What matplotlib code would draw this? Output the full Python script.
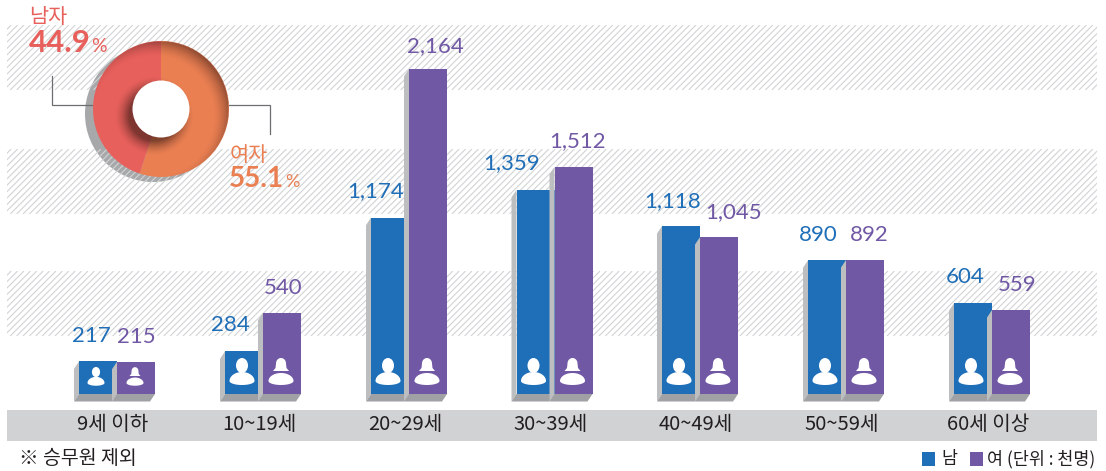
import numpy as np
import matplotlib
matplotlib.use("Agg")
import matplotlib.pyplot as plt
from matplotlib.patches import Rectangle, Polygon, Circle, Ellipse
from matplotlib.collections import LineCollection

categories = ["9세 이하", "10~19세", "20~29세", "30~39세", "40~49세", "50~59세", "60세 이상"]
male = [217, 284, 1174, 1359, 1118, 890, 604]
female = [215, 540, 2164, 1512, 1045, 892, 559]
male_labels = ["217", "284", "1,174", "1,359", "1,118", "890", "604"]
female_labels = ["215", "540", "2,164", "1,512", "1,045", "892", "559"]
share_values = [55.1, 44.9]

W, H = 1106, 471
BLUE, PURPLE = "#1e6eb8", "#7058a5"
ORANGE, RED = "#ea7f52", "#e8605c"
SIDE, FLOOR = "#bcbec0", "#a0a1a4"
KR = ["Noto Sans CJK KR", "DejaVu Sans"]
NUM = ["Lato", "Noto Sans", "DejaVu Sans"]
plt.rcParams["font.family"] = KR

fig = plt.figure(figsize=(W / 100, H / 100), dpi=100, facecolor="white")


def full_axes(z):
    a = fig.add_axes([0, 0, 1, 1], zorder=z)
    a.patch.set_alpha(0)
    a.set_axis_off()
    return a


# background (pixel coordinates)
bg = full_axes(0)
bg.set_xlim(0, W)
bg.set_ylim(H, 0)
for y0, y1 in [(25, 90), (149, 214), (271, 336)]:
    clip = Rectangle((7, y0), 1090, y1 - y0, transform=bg.transData, fc="none", ec="none")
    bg.add_patch(clip)
    xs = np.arange(7 - 80, 1097 + 80, 6.4)
    segs = [[(x, y1), (x + (y1 - y0), y0)] for x in xs]
    lc = LineCollection(segs, colors="#d2d3d4", linewidths=0.8)
    bg.add_collection(lc)
    lc.set_clip_path(clip)
bg.add_patch(Rectangle((7, 410), 1090, 31, fc="#d1d2d4", ec="none"))

# bars on a value scale: zero at y=394px, 0.1502 px per unit
SCALE = 0.1502
BASE = 394
val = full_axes(1)
val.set_xlim(0, W)
val.set_ylim(-(H - BASE) / SCALE, BASE / SCALE)
centers = np.array([117, 263, 409, 554.5, 700, 846, 992])
BW = 38
DX, DY = -5, 7.5 / SCALE


def bar3d(a, left, v, color, z):
    right = left + BW
    a.add_patch(Polygon([(left, v), (left + DX, v - DY), (left + DX, -DY), (left, 0)],
                        fc=SIDE, ec="none", zorder=z))
    a.add_patch(Polygon([(left, 0), (right, 0), (right + DX, -DY), (left + DX, -DY)],
                        fc=FLOOR, ec="none", zorder=z))
    a.bar(left, v, width=BW, align="edge", color=color, zorder=z + 0.1)


for c, m, f in zip(centers, male, female):
    bar3d(val, c - BW, m, BLUE, 2)
    bar3d(val, c, f, PURPLE, 3)

m_off = [(-7, 25), (-14, 26), (-14, 27), (-24, 27), (-8, 25), (-9, 25), (-8, 26)]
f_off = [(0, 25), (1, 25), (7, 23), (4, 26), (15, 25), (4, 25), (6, 25)]
for c, m, f, ml, fl, mo, fo in zip(centers, male, female, male_labels, female_labels, m_off, f_off):
    val.annotate(ml, (c - BW / 2, m), xytext=mo, textcoords="offset pixels", ha="center", va="center",
                 color=BLUE, fontsize=16, family=NUM, fontweight="normal")
    val.annotate(fl, (c + BW / 2, f), xytext=fo, textcoords="offset pixels", ha="center", va="center",
                 color=PURPLE, fontsize=16, family=NUM, fontweight="normal")

# overlay in pixel coordinates: icons, texts, leader lines
top = full_axes(2)
top.set_xlim(0, W)
top.set_ylim(H, 0)


def shoulders(cx, cy, rx, up, down):
    t = np.linspace(0, np.pi, 40)
    upper = np.c_[cx + rx * np.cos(t), cy - up * np.sin(t)]
    t2 = np.linspace(np.pi, 2 * np.pi, 40)
    lower = np.c_[cx + rx * np.cos(t2), cy - down * np.sin(t2)]
    return Polygon(np.r_[upper, lower], fc="white", ec="none")


def man(cx, s):
    top.add_patch(Ellipse((cx, 386 - 20.5 * s), 12 * s, 15 * s, fc="white", ec="none"))
    top.add_patch(shoulders(cx, 381 if s == 1 else 383, 12.5 * s, 9 * s, 4 * s))


def woman(cx, s):
    yb = 371 if s == 1 else 376
    t = np.linspace(0, np.pi, 30)
    dome = np.c_[cx + 5 * s * np.cos(t), yb - 7.5 * s - 5.5 * s * np.sin(t)]
    pts = np.r_[[(cx + 8 * s, yb), (cx + 5.5 * s, yb - 3 * s)], dome,
                [(cx - 5.5 * s, yb - 3 * s), (cx - 8 * s, yb)]]
    top.add_patch(Polygon(pts, fc="white", ec="none"))
    top.add_patch(shoulders(cx, 381 if s == 1 else 383, 12.5 * s, 8 * s, 4 * s))


for i, c in enumerate(centers):
    s = 0.68 if i == 0 else 1
    man(c - BW / 2 - 2, s)
    woman(c + BW / 2 - 1, s)

for c, lab in zip(centers, categories):
    top.text(c - 4, 425, lab, ha="center", va="center", fontsize=14.5, color="#231f20")

top.text(19, 459, "※ 승무원 제외", ha="left", va="center", fontsize=14, color="#231f20")
top.add_patch(Rectangle((922, 452), 13, 14, fc=BLUE, ec="none"))
top.add_patch(Rectangle((970, 452), 13, 14, fc=PURPLE, ec="none"))
top.text(941, 459, "남", ha="left", va="center", fontsize=12.5, color="#231f20")
top.text(987, 459, "여 (단위 : 천명)", ha="left", va="center", fontsize=12.5, color="#231f20")

top.plot([52, 52, 93], [76, 105, 105], color="#6d6e71", lw=0.9, solid_joinstyle="miter")
top.plot([229, 270, 270], [105, 105, 134], color="#6d6e71", lw=0.9, solid_joinstyle="miter")

top.text(29, 17, "남자", color=RED, fontsize=15, ha="left", va="center")
top.text(29, 43, "44.9", color=RED, fontsize=22.5, ha="left", va="center", family=NUM, fontweight="bold")
top.text(91, 46, "%", color=RED, fontsize=14, ha="left", va="center", family=NUM)
top.text(230, 155, "여자", color=ORANGE, fontsize=15, ha="left", va="center")
top.text(229, 179, "55.1", color=ORANGE, fontsize=20, ha="left", va="center", family=NUM, fontweight="bold")
top.text(285, 182, "%", color=ORANGE, fontsize=13, ha="left", va="center", family=NUM)

# donut
CX, CY, R, RI = 161, 109, 68, 28.5
bg.add_patch(Circle((CX - 8, CY + 5), R, fc="#a7a8aa", ec="none"))
pie = fig.add_axes([(CX - R) / W, 1 - (CY + R) / H, 2 * R / W, 2 * R / H], zorder=3)
pie.patch.set_alpha(0)
wedges, _ = pie.pie(share_values, colors=[ORANGE, RED], startangle=90, counterclock=False, radius=1,
                    wedgeprops=dict(linewidth=0))

# soft shading on the ring
n = 280
xx, yy = np.meshgrid(np.linspace(-1, 1, n), np.linspace(-1, 1, n))
d_out = np.hypot(xx + 0.11, yy + 0.11)
rim = np.clip((d_out - 0.88) / 0.30, 0, 1) ** 1.6 * 0.62
d_in = np.hypot(xx + 0.10, yy + 0.10)
hole = np.clip((RI / R + 0.17 - d_in) / 0.22, 0, 1) ** 1.6 * 0.6
alpha = np.clip(rim + hole, 0, 0.75)
rr = np.hypot(xx, yy)
alpha[rr > 1] = 0
img = np.zeros((n, n, 4))
img[..., 0:3] = (0.22, 0.10, 0.08)
img[..., 3] = alpha
pie.imshow(img, extent=(-1, 1, -1, 1), origin="lower", interpolation="bilinear", zorder=5, aspect="equal")
pie.add_patch(Circle((0, 0), RI / R, fc="white", ec="none", zorder=6))
pie.set_xlim(-1, 1)
pie.set_ylim(-1, 1)
pie.set_aspect("equal")
pie.set_axis_off()

fig.savefig("out.png", dpi=100, facecolor="white")
